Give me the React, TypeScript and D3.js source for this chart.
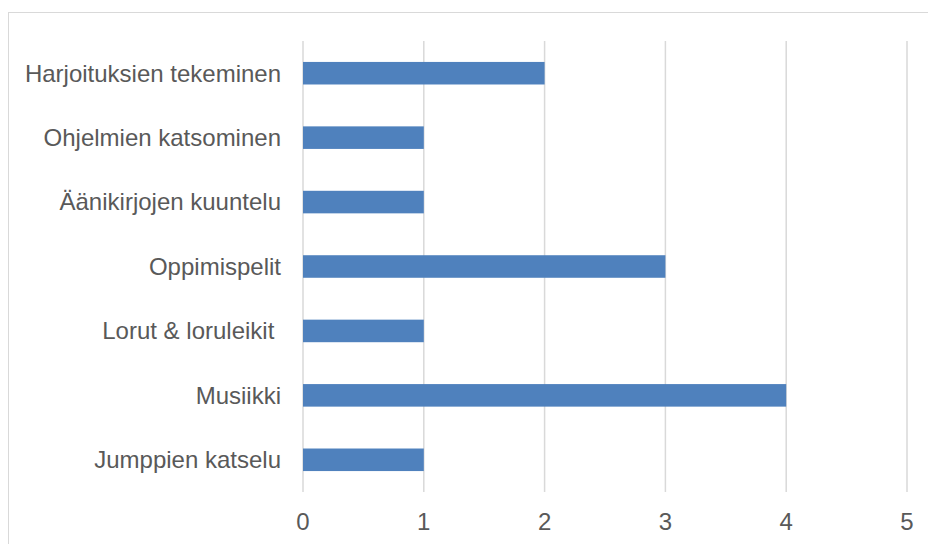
import React from "react";
import * as d3 from "d3";

const categories = [
  "Harjoituksien tekeminen",
  "Ohjelmien katsominen",
  "Äänikirjojen kuuntelu",
  "Oppimispelit",
  "Lorut & loruleikit ",
  "Musiikki",
  "Jumppien katselu",
];
const values = [2, 1, 1, 3, 1, 4, 1];
const ticks = [0, 1, 2, 3, 4, 5];

const W = 928;
const H = 544;

export default function App() {
  const x = d3.scaleLinear().domain([0, 5]).range([303, 907]);
  const y = d3.scaleBand<string>().domain(categories).range([41, 492]).paddingInner(0.65).paddingOuter(0.325);
  const font = "'Liberation Sans', Arial, sans-serif";
  return (
    <svg width={W} height={H} style={{ position: "absolute", left: 0, top: 0, background: "#fff" }}>
      <rect x={8.5} y={12.5} width={W + 10} height={H + 10} fill="#fff" stroke="#d9d9d9" strokeWidth={1} />
      {ticks.map((t) => (
        <line key={t} x1={x(t)} x2={x(t)} y1={41} y2={492} stroke="#d9d9d9" strokeWidth={1.5} />
      ))}
      {categories.map((c, i) => (
        <rect key={c} x={x(0)} y={y(c)} width={x(values[i]) - x(0)} height={y.bandwidth()} fill="#4f81bd" />
      ))}
      {categories.map((c) => (
        <text
          key={c}
          x={281}
          y={(y(c) as number) + y.bandwidth() / 2}
          dy="0.35em"
          textAnchor="end"
          fontFamily={font}
          fontSize={24}
          fill="#595959"
          style={{ whiteSpace: "pre" }}
        >
          {c}
        </text>
      ))}
      {ticks.map((t) => (
        <text key={t} x={x(t)} y={530} textAnchor="middle" fontFamily={font} fontSize={24} fill="#595959">
          {t}
        </text>
      ))}
    </svg>
  );
}
